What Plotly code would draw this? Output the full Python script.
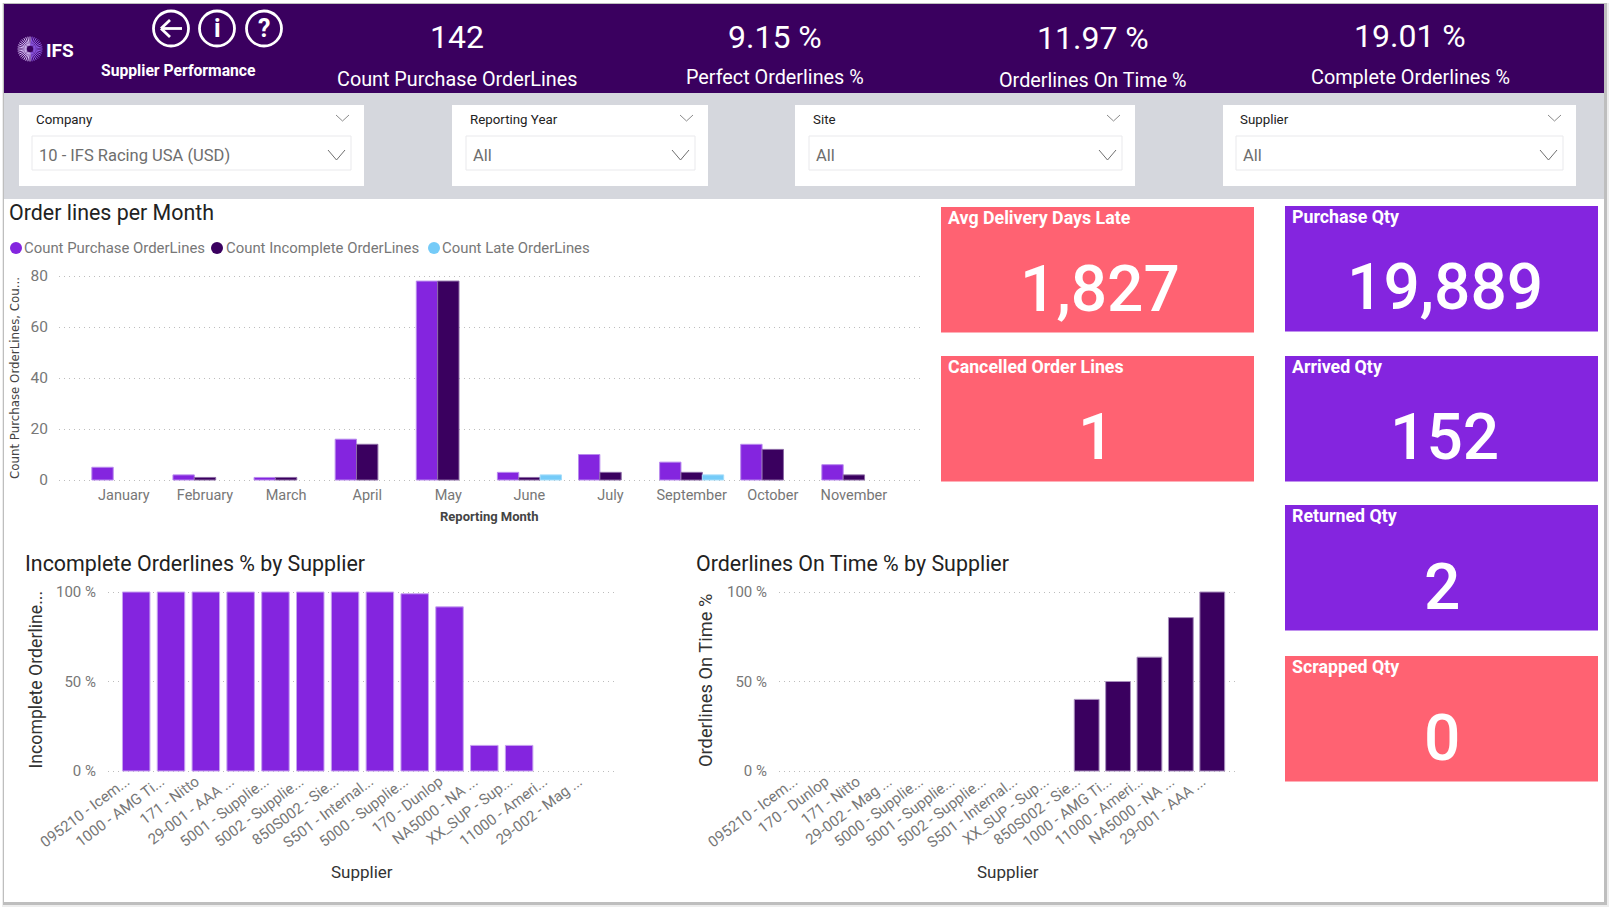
import math
import plotly.graph_objects as go

W, H = 1615, 913

# Monthly order line counts
months = ["January", "February", "March", "April", "May", "June", "July",
          "September", "October", "November"]
count_purchase = [5, 2, 1, 16, 78, 3, 10, 7, 14, 6]
count_incomplete = [0, 1, 1, 14, 78, 1, 3, 3, 12, 2]
count_late = [0, 0, 0, 0, 0, 2, 0, 2, 0, 0]

# Incomplete share per supplier
incomplete_suppliers = ["095210 - Icem...", "1000 - AMG Ti...", "171 - Nitto", "29-001 - AAA ...",
                        "5001 - Supplie...", "5002 - Supplie...", "850S002 - Sie...", "S501 - Internal...",
                        "5000 - Supplie...", "170 - Dunlop", "NA5000 - NA ...", "XX_SUP - Sup...",
                        "11000 - Ameri...", "29-002 - Mag ..."]
incomplete_pct = [100, 100, 100, 100, 100, 100, 100, 100, 99, 91.7, 14.3, 14.3, 0, 0]

# On-time share per supplier
ontime_suppliers = ["095210 - Icem...", "170 - Dunlop", "171 - Nitto", "29-002 - Mag ...",
                    "5000 - Supplie...", "5001 - Supplie...", "5002 - Supplie...", "S501 - Internal...",
                    "XX_SUP - Sup...", "850S002 - Sie...", "1000 - AMG Ti...", "11000 - Ameri...",
                    "NA5000 - NA ...", "29-001 - AAA ..."]
ontime_pct = [0, 0, 0, 0, 0, 0, 0, 0, 0, 40, 50, 63.6, 85.7, 100]

# Header figures and card figures
header_kpis = [("142", "Count Purchase OrderLines", 457, 37, 79),
               ("9.15 %", "Perfect Orderlines %", 775, 37, 78),
               ("11.97 %", "Orderlines On Time %", 1093, 38, 80),
               ("19.01 %", "Complete Orderlines %", 1410, 36, 78)]
slicers = [("Company", "10 - IFS Racing USA (USD)", 19, 364, 32, 351),
           ("Reporting Year", "All", 452, 708, 466, 695),
           ("Site", "All", 795, 1135, 809, 1122),
           ("Supplier", "All", 1223, 1576, 1236, 1563)]

PURPLE = "#8425DF"
DARK = "#3A005F"
BLUE = "#75CBF8"
CORAL = "#FF6272"
GREY_BAND = "#D5D7DD"
FACE = "Roboto"
TICK_GREY = "#777777"

cards = [("Avg Delivery Days Late", "1,827", 941, 207, CORAL, 1100, 289),
         ("Cancelled Order Lines", "1", 941, 356, CORAL, 1096, 438),
         ("Purchase Qty", "19,889", 1285, 206, PURPLE, 1445, 288),
         ("Arrived Qty", "152", 1285, 356, PURPLE, 1444, 438),
         ("Returned Qty", "2", 1285, 505, PURPLE, 1442, 587),
         ("Scrapped Qty", "0", 1285, 656, CORAL, 1442, 738)]

shapes, notes = [], []


def px(x):
    return x / W


def py(y):
    return 1 - y / H


def rect(x0, y0, x1, y1, fill, line=None):
    shapes.append(dict(type="rect", xref="paper", yref="paper", layer="below",
                       x0=px(x0), x1=px(x1), y0=py(y1), y1=py(y0), fillcolor=fill,
                       line=dict(color=line or fill, width=1 if line else 0)))


def text(s, x, y, size, color="#222222", family=FACE, anchor="left", angle=0, bold=False, weight=None):
    font = dict(size=size, color=color, family=family)
    if weight:
        font["weight"] = weight
    notes.append(dict(text=f"<b>{s}</b>" if bold else s, x=px(x), y=py(y), xref="paper", yref="paper",
                      xanchor=anchor, yanchor="middle", showarrow=False, textangle=angle,
                      borderpad=0, borderwidth=0, font=font))


def chevron(x0, x1, y0, y1, color="#8A8A8A", width=1):
    mid = (x0 + x1) / 2
    shapes.append(dict(type="path", xref="paper", yref="paper", layer="above",
                       path=f"M {px(x0)} {py(y0)} L {px(mid)} {py(y1)} L {px(x1)} {py(y0)}",
                       line=dict(color=color, width=width)))


def ring(cx, cy, r):
    shapes.append(dict(type="circle", xref="paper", yref="paper", layer="above",
                       x0=px(cx - r), x1=px(cx + r), y0=py(cy + r), y1=py(cy - r),
                       line=dict(color="white", width=2.8)))


def seg(x0, y0, x1, y1, color, width):
    shapes.append(dict(type="line", xref="paper", yref="paper", layer="above",
                       x0=px(x0), x1=px(x1), y0=py(y0), y1=py(y1),
                       line=dict(color=color, width=width)))


# Page frame with a soft shadow on the right and bottom
rect(2, 3, 1609, 907, "#EDEDED")
rect(3, 3, 1607, 905, "#BEBEBE")
rect(4, 4, 1604, 902, "#FFFFFF")
rect(4, 4, 1604, 93, DARK)
rect(4, 93, 1604, 199, GREY_BAND)

# Starburst logo and wordmark
for i in range(36):
    a = 2 * math.pi * i / 36
    colour = "#D6BDF5" if math.cos(a) < 0.1 else "#8F5BE8"
    seg(30 + 3.5 * math.cos(a), 49 + 3.5 * math.sin(a), 30 + 12.5 * math.cos(a), 49 + 12.5 * math.sin(a), colour, 1)
text("IFS", 46, 50, 19, "white", FACE, bold=True)

# Navigation icons
ring(171, 28.5, 17.5)
ring(217, 28.5, 17.5)
ring(264, 28.5, 17.5)
seg(161, 28.5, 182, 28.5, "white", 2.8)
seg(161, 28.5, 170, 20, "white", 2.8)
seg(161, 28.5, 170, 37, "white", 2.8)
text("i", 217, 29, 25, "white", FACE, "center", bold=True)
text("?", 264, 29, 25, "white", FACE, "center", bold=True)
text("Supplier Performance", 178, 70, 15.7, "white", FACE, "center", bold=True)

for value, caption, cx, vy, ly in header_kpis:
    text(value, cx, vy, 32, "white", FACE, "center")
    text(caption, cx, ly, 19.8, "white", FACE, "center")

for title, choice, x0, x1, ix0, ix1 in slicers:
    rect(x0, 105, x1, 186, "#FFFFFF")
    rect(ix0, 136, ix1, 170, "#FFFFFF", "#E9E9EC")
    text(title, ix0 + 3.5, 119, 13.3, "#222222")
    text(choice, ix0 + 7, 156, 16.5, "#6E6E6E")
    chevron(x1 - 28, x1 - 15, 115, 121)
    chevron(ix1 - 23, ix1 - 6, 150, 160, "#6E6E6E")

for title, value, x0, y0, colour, cx, vy in cards:
    rect(x0, y0, x0 + 313, y0 + 125.5, colour)
    text(title, x0 + 6.5, y0 + 10.5, 17.8, "white", FACE, bold=True)
    text(value, cx, vy, 64, "white", FACE, "center", weight=500)

# Chart headings, hand-placed legend and axis titles
text("Order lines per Month", 9, 213, 21.4)
text("Incomplete Orderlines % by Supplier", 25, 563, 21.4)
text("Orderlines On Time % by Supplier", 696, 563, 21.4)

legend_items = [("Count Purchase OrderLines", PURPLE, 16, 24),
                ("Count Incomplete OrderLines", DARK, 217, 226),
                ("Count Late OrderLines", BLUE, 434, 442)]
for name, colour, cx, tx in legend_items:
    shapes.append(dict(type="circle", xref="paper", yref="paper", layer="above",
                       x0=px(cx - 6), x1=px(cx + 6), y0=py(254), y1=py(242),
                       fillcolor=colour, line=dict(width=0)))
    text(name, tx, 248, 14.9, "#777777")

text("Count Purchase OrderLines, Cou...", 15, 378, 11.8, "#444444", "DejaVu Sans", "center", -90)
text("Reporting Month", 489, 516, 13, "#444444", FACE, "center", bold=True)
text("Incomplete Orderline...", 35.5, 680, 17.7, "#333333", FACE, "center", -90)
text("Orderlines On Time %", 705, 681, 18.3, "#333333", FACE, "center", -90)
text("Supplier", 362, 872, 17, "#333333", FACE, "center")
text("Supplier", 1008, 872, 17, "#333333", FACE, "center")

fig = go.Figure()


def bar(x, y, colour, edge, xaxis, yaxis, name):
    # Zero values get no outline, so empty categories stay blank
    edges = [1 if v else 0 for v in y]
    fig.add_trace(go.Bar(x=x, y=y, name=name, xaxis=xaxis, yaxis=yaxis, showlegend=False,
                         marker=dict(color=colour, line=dict(color=edge, width=edges))))


bar(months, count_purchase, PURPLE, "#B98AEE", "x", "y", "Count Purchase OrderLines")
bar(months, count_incomplete, DARK, "#8C6AA5", "x", "y", "Count Incomplete OrderLines")
bar(months, count_late, BLUE, "#A5DDFA", "x", "y", "Count Late OrderLines")
bar(incomplete_suppliers, incomplete_pct, PURPLE, "#C7A2F0", "x2", "y2", "Incomplete Orderlines %")
bar(ontime_suppliers, ontime_pct, DARK, "#A88FBD", "x3", "y3", "Orderlines On Time %")


def x_axis(domain, rng, anchor, **extra):
    return dict(domain=[px(domain[0]), px(domain[1])], range=rng, anchor=anchor, type="category",
                showgrid=False, showline=False, zeroline=False, **extra)


def y_axis(top, bottom, top_value, anchor, dtick, ticklen, **extra):
    # Pad the plot by 2px each way so the gridlines at both ends of the range are kept
    pad = 2 * top_value / (bottom - top)
    return dict(domain=[py(bottom + 2), py(top - 2)], range=[-pad, top_value + pad], anchor=anchor,
                dtick=dtick, showline=False, zeroline=False, showgrid=True, griddash="1px,4px",
                gridcolor="#BDBDBD", gridwidth=1, ticks="outside", ticklen=ticklen,
                tickcolor="rgba(0,0,0,0)", **extra)


small_ticks = dict(size=15, family=FACE, color=TICK_GREY)
pct_ticks = dict(size=15, family=FACE, color=TICK_GREY)
rotated = dict(tickangle=-37, tickfont=small_ticks, ticklabelshift=-10, ticklabelstandoff=-4)

fig.update_layout(
    width=W, height=H, autosize=False, margin=dict(l=0, r=0, t=0, b=0, autoexpand=False),
    paper_bgcolor="white", plot_bgcolor="rgba(0,0,0,0)",
    barmode="group", bargap=0.21, bargroupgap=0, showlegend=False,
    shapes=shapes, annotations=notes,
    xaxis=x_axis((59, 922), [-0.80, 9.84], "y", ticklen=0, ticks="outside", tickcolor="rgba(0,0,0,0)",
                 tickangle=0, tickfont=dict(size=14.5, family=FACE, color=TICK_GREY)),
    yaxis=y_axis(276, 480, 80, "x", 20, 7, tickfont=dict(size=15.5, family=FACE, color=TICK_GREY)),
    xaxis2=x_axis((108, 618), [-0.81, 13.84], "y2", **rotated),
    yaxis2=y_axis(592, 771, 100, "x2", 50, 8, ticksuffix=" %", tickfont=pct_ticks),
    xaxis3=x_axis((779, 1238), [-0.80, 13.82], "y3", **rotated),
    yaxis3=y_axis(592, 771, 100, "x3", 50, 8, ticksuffix=" %", tickfont=pct_ticks),
)

fig.write_html("out.html")
